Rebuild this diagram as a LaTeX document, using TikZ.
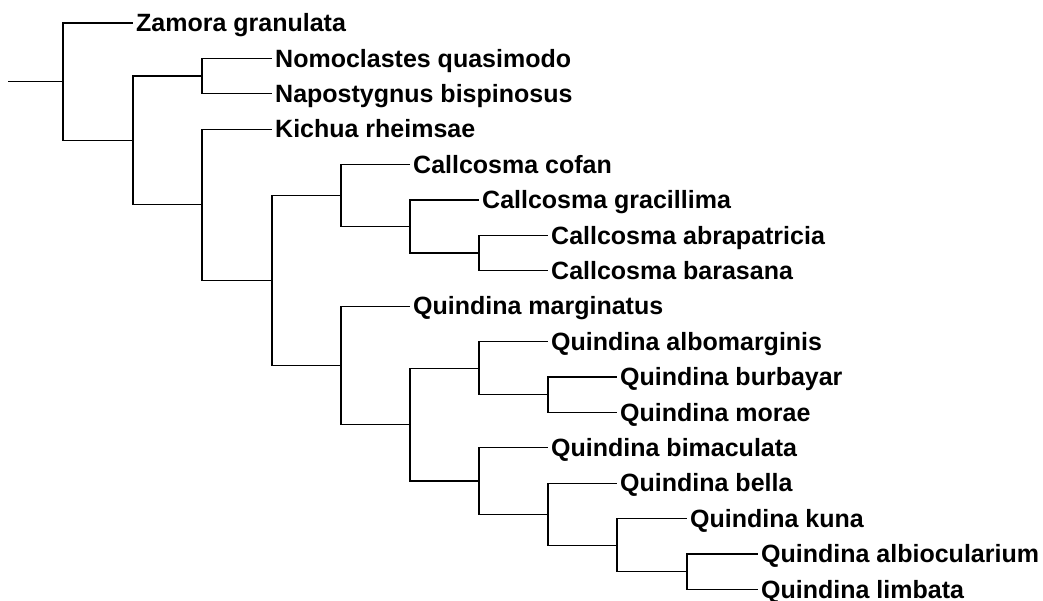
\documentclass[tikz,border=0pt]{standalone}
\usepackage{fontspec}
\setmainfont{Liberation Sans}
\begin{document}
\begin{tikzpicture}[x=1pt,y=-1pt,
  branch/.style={draw=black,line width=1.2pt,line join=miter},
  taxon/.style={anchor=west,inner xsep=3pt,inner ysep=0pt,text height=17.4pt,text depth=0pt,
    font=\fontsize{25}{30}\selectfont\bfseries,text=black}]
\useasboundingbox (0,0) rectangle (1043,601);
% internal nodes
\coordinate (start) at (8,81.74);
\coordinate (root) at (63,81.74);
\coordinate (A) at (133,140.47);
\coordinate (NN) at (202,76.1);
\coordinate (B) at (202,204.84);
\coordinate (C) at (272,280.48);
\coordinate (Cal) at (341,195.58);
\coordinate (D) at (410,226.55);
\coordinate (E) at (479,253.1);
\coordinate (Q) at (341,365.39);
\coordinate (F) at (410,424.57);
\coordinate (G) at (479,368.15);
\coordinate (I) at (548,394.7);
\coordinate (H) at (479,480.99);
\coordinate (J) at (548,514.18);
\coordinate (K) at (617,545.15);
\coordinate (M) at (687,571.7);
% taxa
\node[taxon] (zam) at (133,23) {Zamora granulata};
\node[taxon] (nom) at (272,58.4) {Nomoclastes quasimodo};
\node[taxon] (nap) at (272,93.8) {Napostygnus bispinosus};
\node[taxon] (kic) at (272,129.2) {Kichua rheimsae};
\node[taxon] (cof) at (410,164.6) {Callcosma cofan};
\node[taxon] (gra) at (479,200) {Callcosma gracillima};
\node[taxon] (abr) at (548,235.4) {Callcosma abrapatricia};
\node[taxon] (bar) at (548,270.8) {Callcosma barasana};
\node[taxon] (mar) at (410,306.2) {Quindina marginatus};
\node[taxon] (alm) at (548,341.6) {Quindina albomarginis};
\node[taxon] (bur) at (617,377) {Quindina burbayar};
\node[taxon] (mor) at (617,412.4) {Quindina morae};
\node[taxon] (bim) at (548,447.8) {Quindina bimaculata};
\node[taxon] (bel) at (617,483.2) {Quindina bella};
\node[taxon] (kun) at (687,518.6) {Quindina kuna};
\node[taxon] (alb) at (758,554) {Quindina albiocularium};
\node[taxon] (lim) at (758,589.4) {Quindina limbata};
% branches
\draw[branch] (start) -- (root);
\draw[branch] (root) |- (zam.west);
\draw[branch] (root) |- (A);
\draw[branch] (A) |- (NN);
\draw[branch] (A) |- (B);
\draw[branch] (NN) |- (nom.west);
\draw[branch] (NN) |- (nap.west);
\draw[branch] (B) |- (kic.west);
\draw[branch] (B) |- (C);
\draw[branch] (C) |- (Cal);
\draw[branch] (C) |- (Q);
\draw[branch] (Cal) |- (cof.west);
\draw[branch] (Cal) |- (D);
\draw[branch] (D) |- (gra.west);
\draw[branch] (D) |- (E);
\draw[branch] (E) |- (abr.west);
\draw[branch] (E) |- (bar.west);
\draw[branch] (Q) |- (mar.west);
\draw[branch] (Q) |- (F);
\draw[branch] (F) |- (G);
\draw[branch] (F) |- (H);
\draw[branch] (G) |- (alm.west);
\draw[branch] (G) |- (I);
\draw[branch] (I) |- (bur.west);
\draw[branch] (I) |- (mor.west);
\draw[branch] (H) |- (bim.west);
\draw[branch] (H) |- (J);
\draw[branch] (J) |- (bel.west);
\draw[branch] (J) |- (K);
\draw[branch] (K) |- (kun.west);
\draw[branch] (K) |- (M);
\draw[branch] (M) |- (alb.west);
\draw[branch] (M) |- (lim.west);
\end{tikzpicture}
\end{document}
